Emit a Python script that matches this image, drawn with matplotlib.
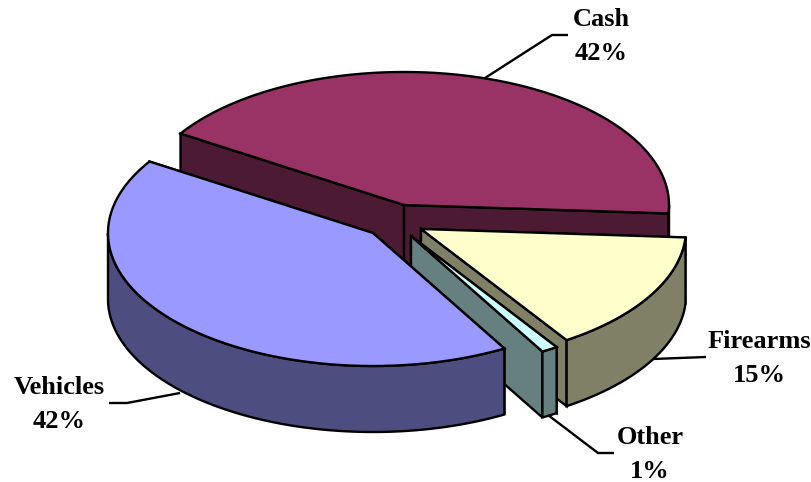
"""
3D exploded pie, drawn by hand: matplotlib has no real 3D pie.
Axes run in image pixels so the layout can be read straight off the reference.
"""

import numpy as np
import matplotlib
matplotlib.use("Agg")
import matplotlib.pyplot as plt
from matplotlib.patches import Polygon

# ─── DATA ─────────────────────────────────────────────────────────────────────
categories = ["Cash", "Firearms", "Other", "Vehicles"]
shares     = [41.9, 14.7, 1.0, 42.2]   # labels are rounded

# ─── STYLE / LAYOUT ───────────────────────────────────────────────────────────
START_ANGLE = 147.5   # clockwise from here
RX, RY      = 265, 133
DEPTH       = 66
LW          = 1.7
centers     = [(404, 205), (421, 229), (411, 236), (373, 233)]
top_colors  = ["#993366", "#FFFFCC", "#CCFFFF", "#9999FF"]
side_colors = ["#4D1A33", "#808066", "#668080", "#4D4D80"]
label_pos   = [(601, 19, 54), (759, 342, 376), (650, 438, 472), (59, 388, 421)]
leaders     = [
    [(485, 78), (552, 35), (568, 35)],
    [(653, 359), (706, 357)],
    [(548, 415), (598, 453), (614, 453)],
    [(180, 393), (127, 403), (109, 403)],
]
# ──────────────────────────────────────────────────────────────────────────────

plt.rcParams["font.family"] = ["Liberation Serif", "DejaVu Serif"]

fig = plt.figure(figsize=(8.11, 4.82), dpi=100)
ax = fig.add_axes([0, 0, 1, 1])
ax.set_xlim(0, 811)
ax.set_ylim(482, 0)
ax.axis("off")


def arc(cx, cy, a1, a2, drop=0):
    t = np.radians(np.linspace(a1, a2, 200))
    return np.column_stack([cx + RX * np.cos(t), cy - RY * np.sin(t) + drop])


def draw_wedge(center, a1, a2, top, side):
    cx, cy = center

    # caras radiales
    for a in (a1, a2):
        p = arc(cx, cy, a, a, 0)[0]
        wall = [(cx, cy), p, (p[0], p[1] + DEPTH), (cx, cy + DEPTH)]
        ax.add_patch(Polygon(wall, closed=True, fc=side, ec="black", lw=LW,
                             joinstyle="miter"))

    # borde exterior, solo la mitad frontal
    lo, hi = max(a2, -180), min(a1, 0)
    if hi > lo:
        upper = arc(cx, cy, hi, lo)
        lower = arc(cx, cy, lo, hi, DEPTH)
        ax.add_patch(Polygon(np.vstack([upper, lower]), closed=True, fc=side,
                             ec="black", lw=LW))

    outline = np.vstack([[(cx, cy)], arc(cx, cy, a1, a2)])
    ax.add_patch(Polygon(outline, closed=True, fc=top, ec="black", lw=LW,
                         joinstyle="miter"))


total = sum(shares)
angle = START_ANGLE
for i, name in enumerate(categories):
    sweep = shares[i] / total * 360
    draw_wedge(centers[i], angle, angle - sweep, top_colors[i], side_colors[i])
    angle -= sweep

for pts in leaders:
    xs, ys = zip(*pts)
    ax.plot(xs, ys, color="black", lw=LW, solid_capstyle="butt", zorder=5)

for name, share, (x, y1, y2) in zip(categories, shares, label_pos):
    ax.text(x, y1, name, ha="center", va="center", fontsize=19,
            fontweight="bold", color="black")
    ax.text(x, y2, f"{round(share)}%", ha="center", va="center", fontsize=19,
            fontweight="bold", color="black")

fig.savefig("out.png", dpi=100)
